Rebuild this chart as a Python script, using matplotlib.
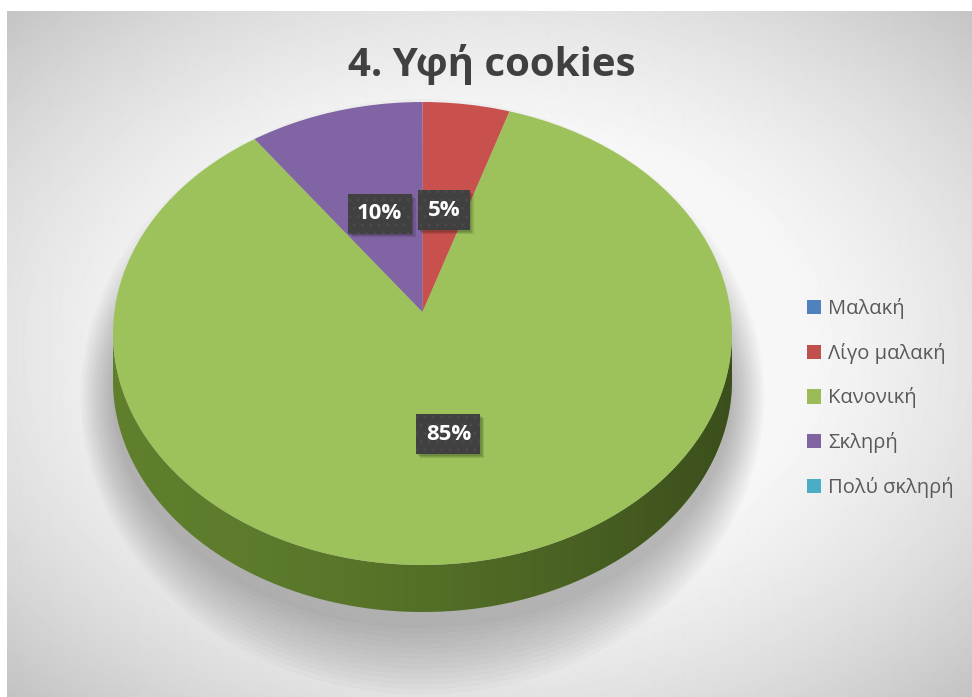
"""
3D-style pie chart: cookie texture survey (Excel look-alike)
"""

import numpy as np
import matplotlib.pyplot as plt
from matplotlib.patches import Ellipse, Polygon, Patch, Rectangle

# Data
categories = ["Μαλακή", "Λίγο μαλακή", "Κανονική", "Σκληρή", "Πολύ σκληρή"]
shares = [0, 5, 85, 10, 0]
title = "4. Υφή cookies"

# Colours
legend_colors = ["#4f81bd", "#c0504d", "#9bbb59", "#8064a2", "#4bacc6"]
top_colors = ["#5088c6", "#c9514d", "#9dc25b", "#8064a3", "#4cb2cd"]
side_colors = ["#2e4d73", "#7d302e", "#62822e", "#4b3a66", "#2b6a7b"]

FONT = "Open Sans"
W, H = 972, 697

fig = plt.figure(figsize=(W / 100, H / 100), dpi=100)

# Background panel with soft radial gradient
bg = fig.add_axes([0, 0, 1, 1])
x0, x1, y0, y1 = 7, W, 11, H
xx, yy = np.meshgrid(np.arange(x0, x1), np.arange(y0, y1))
r2 = ((xx - 490) / 490) ** 2 + ((yy - 350) / 345) ** 2
shade = np.clip(1.02 - 0.13 * r2, 0, 0.965)
bg.imshow(shade, cmap="gray", vmin=0, vmax=1, extent=(x0, x1, y1, y0),
          aspect="auto", interpolation="bilinear")
bg.set_xlim(0, W)
bg.set_ylim(H, 0)
bg.axis("off")

# Pie axes: one data unit = semi-axis of the top face
cx, cy, a, b = 422.5, 333.5, 309.5, 231.5
xlim = (-1.3, 1.3)
ylim = (-1.45, 1.3)
left = cx + xlim[0] * a
width = (xlim[1] - xlim[0]) * a
top = cy - ylim[1] * b
height = (ylim[1] - ylim[0]) * b
ax = fig.add_axes([left / W, 1 - (top + height) / H, width / W, height / H])
ax.patch.set_visible(False)

tilt = 0.093   # apex shift caused by perspective
depth = 0.203  # thickness of the disc

# soft shadow under the disc
for i in range(14):
    ax.add_patch(Ellipse((0, -depth - 0.07), 2 * (1.0 + 0.008 * i), 2 * (1.0 + 0.022 * i),
                         facecolor="black", alpha=0.018, linewidth=0, zorder=1,
                         clip_on=False))

# side of the disc
t = np.linspace(np.pi, 2 * np.pi, 200)
upper = np.column_stack([np.cos(t), np.sin(t)])
lower = np.column_stack([np.cos(t), np.sin(t) - depth])
side_patch = Polygon(np.vstack([upper, lower[::-1]]), closed=True, transform=ax.transData)

side_wedges, _ = ax.pie(shares, colors=side_colors, startangle=90, counterclock=False,
                        radius=1.3, center=(0, tilt - depth),
                        wedgeprops=dict(linewidth=0))
for w in side_wedges:
    w.set_clip_on(True)
    w.set_clip_path(side_patch)
    w.set_zorder(2)

# light from the left, darker to the right
gx = np.linspace(0, 1, 300)
grad = np.zeros((1, 300, 4))
grad[0, :, 3] = 0.02 + 0.38 * gx ** 1.6
shade_img = ax.imshow(grad, extent=(-1, 1, -1 - depth, 0), aspect="auto", zorder=3,
                      interpolation="bilinear")
shade_img.set_clip_path(side_patch)

# top face
top_face = Ellipse((0, 0), 2, 2, transform=ax.transData)
wedges, _, autotexts = ax.pie(
    shares, colors=top_colors, startangle=90, counterclock=False,
    radius=1.3, center=(0, tilt),
    autopct=lambda p: f"{p:.0f}%" if p > 0 else "",
    wedgeprops=dict(linewidth=0),
)
for w in wedges:
    w.set_clip_on(True)
    w.set_clip_path(top_face)
    w.set_zorder(4)

# data labels halfway along each slice
labels = []
for w, txt in zip(wedges, autotexts):
    if not txt.get_text():
        continue
    mid = np.radians((w.theta1 + w.theta2) / 2)
    c, s = np.cos(mid), np.sin(mid)
    reach = -tilt * s + np.sqrt((tilt * s) ** 2 - tilt ** 2 + 1)
    txt.set_position((0.49 * reach * c, tilt + 0.49 * reach * s))
    txt.set(color="white", fontsize=16, fontweight="bold", family=FONT, zorder=6,
            ha="center", va="center")
    txt.set_bbox(dict(boxstyle="square,pad=0.42", facecolor="#404040",
                      edgecolor="#4a4a4a", linewidth=0, hatch=".."))
    labels.append(txt)

ax.set_aspect("auto")
ax.set_xlim(*xlim)
ax.set_ylim(*ylim)
ax.axis("off")

# soft drop shadow behind each label box, taken from the drawn box size
fig.canvas.draw()
renderer = fig.canvas.get_renderer()
to_data = ax.transData.inverted()
for txt in labels:
    box = txt.get_bbox_patch().get_window_extent(renderer)
    for k in range(3):
        off = 1.5 + 1.2 * k
        (bx0, by0), (bx1, by1) = to_data.transform([(box.x0 + off, box.y0 - off),
                                                    (box.x1 + off, box.y1 - off)])
        ax.add_patch(Rectangle((bx0, by0), bx1 - bx0, by1 - by0, facecolor="black",
                               alpha=0.1, linewidth=0, zorder=5))

# Title
fig.text(492 / W, 1 - 76 / H, title, ha="center", va="baseline", fontsize=29,
         fontweight="bold", color="#404040", family=FONT)

# Legend
handles = [Patch(facecolor=c, edgecolor="none") for c in legend_colors]
fig.legend(handles, categories, loc="center left",
           bbox_to_anchor=(807 / W, 1 - 398 / H), frameon=False,
           prop={"family": FONT, "size": 14.5}, labelcolor="#595959",
           handlelength=0.7, handleheight=0.7, handletextpad=0.35,
           labelspacing=1.18, borderpad=0, borderaxespad=0)

fig.savefig("out.png", dpi=100)
